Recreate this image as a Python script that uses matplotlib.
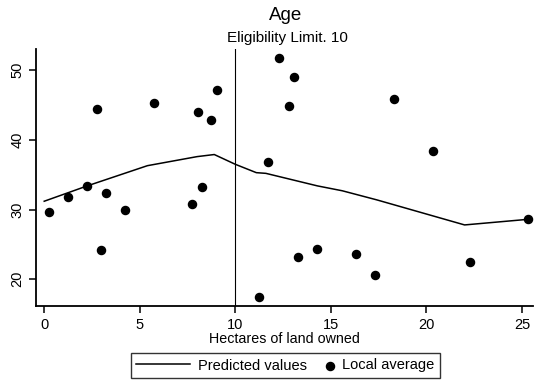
import matplotlib
matplotlib.use("Agg")
import matplotlib.pyplot as plt
from matplotlib.legend_handler import HandlerPathCollection

plt.rcParams['font.family'] = ['Liberation Sans', 'DejaVu Sans']

# Local averages (scatter)
pts_x = [0.26, 1.26, 2.25, 2.76, 2.98, 3.23, 4.24, 5.74, 7.75, 8.03, 8.24, 8.74, 9.03,
         11.7, 11.26, 12.29, 13.07, 12.8, 13.27, 14.29, 18.32, 16.3, 17.31, 20.33, 22.3, 25.3]
pts_y = [29.6, 31.8, 33.4, 44.5, 24.2, 32.4, 30.0, 45.3, 30.8, 44.05, 33.2, 42.85, 47.2,
         36.8, 17.46, 51.75, 49.07, 44.9, 23.24, 24.3, 45.8, 23.6, 20.6, 38.4, 22.5, 28.6]

# Predicted values (line)
line_x = [0.0, 2.25, 5.4, 8.0, 8.9, 10.0, 11.1, 11.6, 14.3, 15.6, 17.4, 22.0, 25.3]
line_y = [31.2, 33.4, 36.3, 37.6, 37.9, 36.5, 35.3, 35.2, 33.4, 32.7, 31.4, 27.8, 28.6]

cutoff = 10
x_ticks = [0, 5, 10, 15, 20, 25]
y_ticks = [20, 30, 40, 50]


class RightMarker(HandlerPathCollection):
    def get_xdata(self, legend, xdescent, ydescent, width, height, fontsize):
        x = -xdescent + width - 4
        return [x], [x]


W, H = 535, 382
fig = plt.figure(figsize=(W / 100, H / 100), dpi=100)
ax = fig.add_axes([36 / W, (H - 306) / H, (533 - 36) / W, (306 - 49) / H])

ln, = ax.plot(line_x, line_y, color='black', lw=1.1)
sc = ax.scatter(pts_x, pts_y, s=34, color='black', zorder=3)
ax.axvline(cutoff, color='black', lw=0.8)

ax.set_xlim(-0.43, 25.58)
ax.set_ylim(16.17, 53.04)
ax.set_xticks(x_ticks)
ax.set_yticks(y_ticks)
ax.set_yticklabels([str(v) for v in y_ticks], rotation=90, va='center')
ax.tick_params(direction='out', length=5, width=1.1, labelsize=10.5, colors='black')
for s in ['top', 'right']:
    ax.spines[s].set_visible(False)
for s in ['left', 'bottom']:
    ax.spines[s].set_linewidth(1.3)

ax.set_xlabel('Hectares of land owned', fontsize=10.3, labelpad=0)

fig.text(286 / W, 1 - 15 / H, 'Age', ha='center', va='center', fontsize=13.5)
fig.text(287 / W, 1 - 38 / H, 'Eligibility Limit. 10', ha='center', va='center', fontsize=11)

leg = fig.legend([ln, sc], ['Predicted values', 'Local average'], ncol=2,
                 loc='center', bbox_to_anchor=(285.5 / W, 1 - 365.5 / H),
                 fontsize=10.5, frameon=True, fancybox=False, edgecolor='black',
                 handlelength=3.7, columnspacing=-1.75, handletextpad=0.5,
                 borderpad=0.35, scatterpoints=1,
                 handler_map={sc: RightMarker()})
leg.get_frame().set_linewidth(1.0)

fig.savefig('out.png', dpi=100)
